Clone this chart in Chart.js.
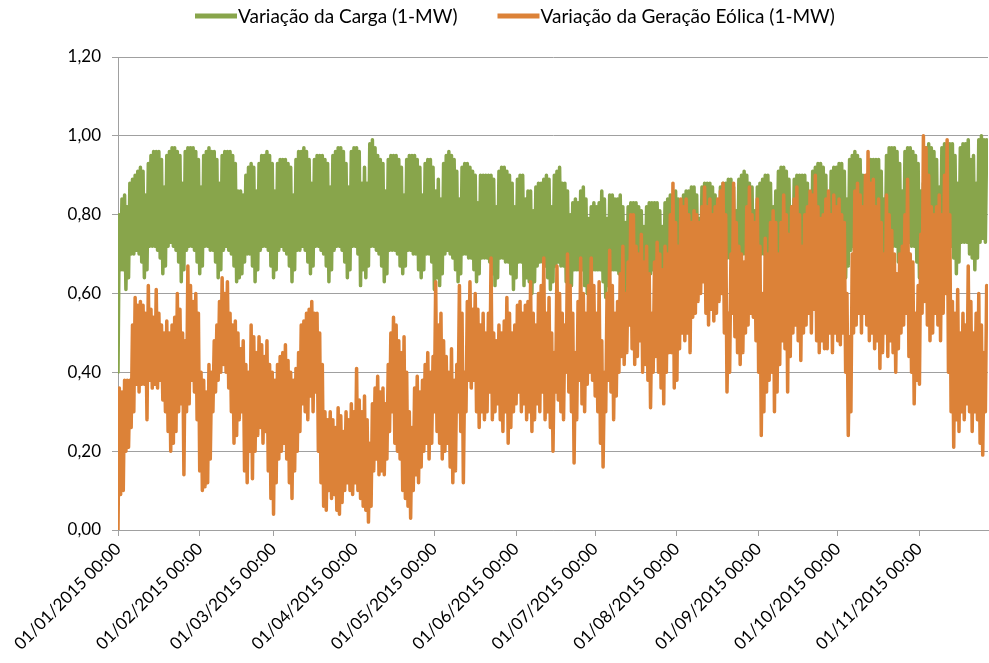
<!DOCTYPE html>
<html>
<head>
<meta charset="utf-8">
<script src="https://cdn.jsdelivr.net/npm/chart.js@4/dist/chart.umd.min.js"></script>
<style>
html,body{margin:0;padding:0;background:#fff;}
#wrap{width:989px;height:663px;}
</style>
</head>
<body>
<div id="wrap"><canvas id="c" width="989" height="663"></canvas></div>
<script>
// x positions are days since 01/01/2015; each day has a minimum and a maximum reading
const tickDays = [0, 31, 59, 90, 120, 151, 181, 212, 243, 273, 304];
const tickLabels = ["01/01/2015 00:00","01/02/2015 00:00","01/03/2015 00:00","01/04/2015 00:00","01/05/2015 00:00","01/06/2015 00:00","01/07/2015 00:00","01/08/2015 00:00","01/09/2015 00:00","01/10/2015 00:00","01/11/2015 00:00"];
const seriesNames = ["Variação da Carga (1-MW)", "Variação da Geração Eólica (1-MW)"];

const cargaMax = [
0.80,0.84,0.85,0.82,0.88,0.89,0.90, 0.91,0.92,0.91,0.85,0.93,0.95,0.96, 0.96,0.96,0.94,0.87,0.95,0.96,0.97,
0.97,0.96,0.95,0.88,0.96,0.97,0.97, 0.97,0.96,0.94,0.87,0.95,0.96,0.97, 0.96,0.96,0.94,0.88,0.95,0.96,0.96,
0.96,0.95,0.93,0.86,0.86,0.85,0.90, 0.92,0.93,0.92,0.86,0.93,0.95,0.95, 0.96,0.95,0.93,0.86,0.93,0.94,0.94,
0.94,0.93,0.92,0.85,0.94,0.96,0.96, 0.97,0.96,0.94,0.88,0.94,0.95,0.95, 0.95,0.94,0.93,0.87,0.95,0.96,0.97,
0.97,0.96,0.93,0.87,0.96,0.97,0.97, 0.96,0.88,0.92,0.88,0.98,0.99,0.97, 0.95,0.94,0.93,0.86,0.94,0.95,0.95,
0.95,0.94,0.92,0.85,0.94,0.95,0.95, 0.95,0.94,0.92,0.85,0.93,0.94,0.94, 0.92,0.86,0.89,0.84,0.93,0.95,0.96,
0.95,0.94,0.91,0.84,0.92,0.93,0.93, 0.92,0.91,0.90,0.83,0.90,0.90,0.90, 0.90,0.90,0.89,0.82,0.91,0.92,0.92,
0.91,0.90,0.88,0.82,0.89,0.90,0.90, 0.84,0.86,0.86,0.81,0.87,0.88,0.88, 0.89,0.90,0.89,0.82,0.90,0.91,0.92,
0.88,0.88,0.86,0.80,0.83,0.84,0.83, 0.86,0.87,0.84,0.79,0.82,0.83,0.82, 0.83,0.86,0.84,0.79,0.85,0.85,0.84,
0.84,0.85,0.82,0.78,0.82,0.83,0.83, 0.83,0.82,0.81,0.77,0.82,0.83,0.83, 0.83,0.83,0.81,0.77,0.83,0.84,0.85,
0.85,0.86,0.84,0.78,0.85,0.86,0.86, 0.87,0.87,0.85,0.79,0.87,0.88,0.88, 0.88,0.87,0.85,0.79,0.87,0.88,0.88,
0.89,0.89,0.87,0.81,0.89,0.90,0.91, 0.90,0.88,0.87,0.81,0.87,0.88,0.89, 0.90,0.90,0.88,0.82,0.86,0.91,0.92,
0.92,0.91,0.89,0.82,0.89,0.90,0.90, 0.90,0.90,0.88,0.82,0.91,0.92,0.93, 0.93,0.92,0.90,0.83,0.91,0.92,0.92,
0.93,0.93,0.91,0.84,0.94,0.95,0.96, 0.95,0.94,0.90,0.83,0.84,0.94,0.94, 0.94,0.94,0.91,0.84,0.95,0.97,0.97,
0.97,0.96,0.93,0.86,0.96,0.97,0.97, 0.96,0.95,0.93,0.86,0.88,0.97,0.98, 0.97,0.96,0.94,0.87,0.97,0.98,0.98,
0.98,0.98,0.95,0.88,0.97,0.98,0.98, 0.99,0.94,0.95,0.88,0.99,1.00,0.99, 0.99
];
const cargaMin = [
0.40,0.66,0.66,0.61,0.64,0.70,0.70, 0.71,0.70,0.68,0.64,0.66,0.72,0.72, 0.72,0.71,0.69,0.65,0.67,0.72,0.73,
0.72,0.71,0.68,0.63,0.66,0.71,0.72, 0.72,0.71,0.68,0.65,0.67,0.72,0.72, 0.71,0.71,0.68,0.64,0.66,0.71,0.72,
0.71,0.70,0.67,0.63,0.64,0.65,0.68, 0.70,0.70,0.67,0.63,0.66,0.71,0.72, 0.72,0.71,0.67,0.64,0.66,0.71,0.72,
0.71,0.70,0.67,0.63,0.66,0.71,0.71, 0.72,0.71,0.68,0.65,0.67,0.72,0.72, 0.71,0.70,0.67,0.63,0.66,0.71,0.72,
0.72,0.71,0.68,0.64,0.66,0.72,0.72, 0.70,0.62,0.66,0.64,0.67,0.72,0.72, 0.71,0.70,0.67,0.63,0.65,0.71,0.71,
0.71,0.70,0.67,0.65,0.67,0.71,0.71, 0.70,0.70,0.66,0.64,0.66,0.70,0.70, 0.68,0.61,0.64,0.62,0.65,0.70,0.71,
0.70,0.69,0.66,0.63,0.65,0.70,0.70, 0.69,0.69,0.66,0.63,0.65,0.69,0.69, 0.69,0.68,0.65,0.62,0.64,0.69,0.69,
0.68,0.68,0.65,0.61,0.64,0.68,0.68, 0.62,0.64,0.63,0.60,0.63,0.67,0.68, 0.68,0.67,0.64,0.61,0.63,0.67,0.68,
0.67,0.67,0.63,0.60,0.62,0.66,0.66, 0.66,0.66,0.62,0.60,0.62,0.66,0.66, 0.66,0.66,0.63,0.59,0.62,0.66,0.66,
0.66,0.65,0.62,0.58,0.61,0.65,0.65, 0.65,0.65,0.62,0.58,0.61,0.65,0.65, 0.66,0.65,0.62,0.59,0.61,0.66,0.66,
0.67,0.66,0.63,0.60,0.63,0.67,0.67, 0.68,0.67,0.64,0.61,0.64,0.68,0.68, 0.68,0.68,0.65,0.62,0.64,0.69,0.69,
0.69,0.69,0.66,0.63,0.65,0.69,0.70, 0.70,0.69,0.66,0.63,0.65,0.70,0.70, 0.70,0.70,0.67,0.63,0.63,0.68,0.70,
0.70,0.70,0.67,0.64,0.66,0.70,0.71, 0.71,0.70,0.67,0.64,0.66,0.71,0.71, 0.71,0.70,0.68,0.64,0.66,0.71,0.71,
0.71,0.71,0.68,0.64,0.67,0.71,0.72, 0.71,0.71,0.67,0.63,0.63,0.70,0.71, 0.72,0.71,0.68,0.64,0.67,0.72,0.72,
0.72,0.72,0.68,0.65,0.67,0.72,0.73, 0.72,0.72,0.68,0.64,0.64,0.71,0.72, 0.73,0.72,0.69,0.65,0.67,0.72,0.73,
0.73,0.72,0.69,0.65,0.68,0.73,0.73, 0.73,0.70,0.69,0.66,0.69,0.73,0.74, 0.73
];
const eolicaMax = [
0.36,0.35,0.38,0.38,0.38,0.52,0.59,0.57,0.58,0.57,
0.55,0.62,0.56,0.54,0.61,0.55,0.52,0.50,0.53,0.50,
0.52,0.54,0.60,0.56,0.50,0.48,0.67,0.62,0.58,0.60,
0.55,0.40,0.38,0.35,0.42,0.40,0.48,0.52,0.58,0.64,
0.60,0.63,0.55,0.52,0.53,0.50,0.46,0.48,0.42,0.40,
0.52,0.49,0.45,0.49,0.47,0.44,0.48,0.42,0.40,0.38,
0.42,0.44,0.45,0.47,0.43,0.40,0.38,0.41,0.45,0.52,
0.53,0.55,0.56,0.58,0.55,0.55,0.50,0.42,0.30,0.28,
0.30,0.28,0.26,0.31,0.29,0.25,0.30,0.28,0.32,0.30,
0.41,0.33,0.30,0.34,0.28,0.22,0.32,0.36,0.39,0.35,
0.36,0.32,0.42,0.50,0.54,0.52,0.48,0.45,0.49,0.40,
0.30,0.26,0.36,0.39,0.35,0.38,0.42,0.45,0.40,0.44,
0.63,0.52,0.55,0.48,0.44,0.40,0.46,0.38,0.42,0.62,
0.55,0.40,0.58,0.63,0.56,0.60,0.56,0.52,0.55,0.50,
0.55,0.69,0.50,0.48,0.52,0.50,0.53,0.59,0.55,0.50,
0.52,0.57,0.58,0.55,0.57,0.58,0.63,0.55,0.52,0.60,
0.62,0.69,0.55,0.59,0.50,0.45,0.67,0.60,0.55,0.52,
0.70,0.62,0.55,0.45,0.58,0.69,0.60,0.55,0.62,0.69,
0.62,0.55,0.63,0.48,0.40,0.60,0.71,0.62,0.55,0.58,
0.65,0.72,0.60,0.68,0.80,0.80,0.72,0.70,0.75,0.68,
0.72,0.65,0.55,0.68,0.73,0.70,0.66,0.72,0.70,0.80,
0.88,0.78,0.72,0.84,0.82,0.84,0.80,0.78,0.81,0.80,
0.78,0.82,0.87,0.82,0.84,0.80,0.82,0.84,0.86,0.88,
0.80,0.55,0.70,0.88,0.78,0.72,0.70,0.68,0.82,0.87,
0.80,0.78,0.84,0.72,0.60,0.74,0.70,0.78,0.81,0.78,
0.70,0.78,0.85,0.80,0.75,0.82,0.84,0.87,0.80,0.72,
0.80,0.82,0.86,0.85,0.90,0.82,0.79,0.80,0.84,0.86,
0.80,0.85,0.82,0.84,0.80,0.78,0.60,0.49,0.70,0.86,
0.88,0.85,0.82,0.90,0.96,0.88,0.89,0.82,0.84,0.78,
0.70,0.85,0.80,0.76,0.70,0.65,0.70,0.72,0.80,0.89,
0.70,0.68,0.55,0.62,0.75,1.00,0.97,0.90,0.82,0.80,
0.82,0.85,0.80,0.90,0.99,0.80,0.58,0.55,0.61,0.50,
0.55,0.52,0.67,0.58,0.50,0.55,0.60,0.52,0.45,0.62
];
const eolicaMin = [
0.00,0.09,0.10,0.20,0.21,0.26,0.30,0.37,0.35,0.37,
0.37,0.28,0.38,0.36,0.37,0.36,0.38,0.33,0.30,0.25,
0.20,0.22,0.25,0.30,0.32,0.14,0.30,0.32,0.38,0.35,
0.28,0.15,0.10,0.11,0.12,0.18,0.30,0.35,0.38,0.40,
0.42,0.40,0.36,0.30,0.22,0.24,0.28,0.30,0.15,0.12,
0.20,0.13,0.20,0.24,0.26,0.22,0.25,0.15,0.08,0.04,
0.12,0.18,0.20,0.22,0.18,0.12,0.08,0.15,0.20,0.25,
0.32,0.30,0.28,0.34,0.30,0.35,0.20,0.12,0.06,0.05,
0.10,0.08,0.09,0.05,0.04,0.07,0.10,0.12,0.10,0.09,
0.12,0.10,0.08,0.06,0.05,0.02,0.06,0.15,0.18,0.14,
0.15,0.14,0.18,0.25,0.30,0.22,0.20,0.18,0.10,0.08,
0.06,0.03,0.10,0.14,0.12,0.16,0.20,0.22,0.18,0.22,
0.30,0.25,0.22,0.18,0.20,0.22,0.16,0.12,0.15,0.30,
0.25,0.12,0.30,0.38,0.36,0.38,0.30,0.26,0.30,0.28,
0.30,0.35,0.28,0.30,0.32,0.28,0.25,0.30,0.22,0.26,
0.30,0.32,0.35,0.30,0.32,0.28,0.30,0.25,0.28,0.32,
0.30,0.35,0.28,0.30,0.26,0.20,0.35,0.33,0.30,0.28,
0.40,0.35,0.30,0.17,0.28,0.38,0.32,0.30,0.37,0.40,
0.38,0.34,0.30,0.22,0.16,0.30,0.38,0.35,0.28,0.34,
0.40,0.44,0.42,0.45,0.52,0.46,0.42,0.44,0.48,0.40,
0.42,0.38,0.31,0.40,0.44,0.40,0.36,0.32,0.40,0.45,
0.45,0.36,0.38,0.46,0.50,0.48,0.50,0.45,0.54,0.55,
0.58,0.60,0.63,0.55,0.52,0.56,0.53,0.55,0.58,0.60,
0.50,0.35,0.40,0.55,0.49,0.45,0.42,0.45,0.50,0.52,
0.55,0.54,0.48,0.40,0.24,0.30,0.35,0.38,0.40,0.30,
0.35,0.42,0.48,0.46,0.35,0.44,0.50,0.52,0.48,0.43,
0.50,0.52,0.55,0.50,0.56,0.48,0.45,0.48,0.46,0.46,
0.50,0.45,0.50,0.48,0.47,0.50,0.40,0.24,0.30,0.50,
0.52,0.55,0.50,0.55,0.52,0.48,0.50,0.46,0.48,0.41,
0.45,0.50,0.44,0.48,0.45,0.40,0.46,0.50,0.52,0.55,
0.44,0.40,0.32,0.38,0.37,0.55,0.58,0.52,0.48,0.50,
0.55,0.52,0.48,0.55,0.60,0.40,0.30,0.21,0.28,0.25,
0.30,0.28,0.32,0.30,0.25,0.30,0.28,0.22,0.19,0.30
];

function dailyPoints(mins, maxs) {
  const pts = [];
  for (let i = 0; i < mins.length; i++) {
    pts.push({x: i, y: mins[i]});
    pts.push({x: i + 0.5, y: maxs[i]});
  }
  return pts;
}

const legendPlugin = {
  id: 'topLegend',
  afterDraw(chart) {
    const ctx = chart.ctx;
    ctx.save();
    ctx.font = '19px Lato';
    ctx.textBaseline = 'middle';
    ctx.textAlign = 'left';
    let x = 195;
    const y = 16;
    chart.data.datasets.forEach(ds => {
      ctx.strokeStyle = ds.borderColor;
      ctx.lineWidth = 5;
      ctx.lineCap = 'butt';
      ctx.beginPath();
      ctx.moveTo(x, y);
      ctx.lineTo(x + 42, y);
      ctx.stroke();
      ctx.fillStyle = '#000';
      ctx.fillText(ds.label, x + 43, y + 1);
      x += 43 + ctx.measureText(ds.label).width + 40;
    });
    ctx.restore();
  }
};

new Chart(document.getElementById('c'), {
  type: 'line',
  data: {
    datasets: [
      {label: seriesNames[0], data: dailyPoints(cargaMin, cargaMax), borderColor: '#88a54b', backgroundColor: '#88a54b', borderWidth: 3.5, pointRadius: 0, tension: 0, borderJoinStyle: 'round', borderCapStyle: 'round', order: 1},
      {label: seriesNames[1], data: dailyPoints(eolicaMin, eolicaMax), borderColor: '#dc8238', backgroundColor: '#dc8238', borderWidth: 3.5, pointRadius: 0, tension: 0, borderJoinStyle: 'round', borderCapStyle: 'round', order: 0}
    ]
  },
  options: {
    responsive: false,
    animation: false,
    events: [],
    layout: {padding: {top: 57, left: 0, right: 1, bottom: 0}},
    plugins: {legend: {display: false}, tooltip: {enabled: false}},
    scales: {
      x: {
        type: 'linear',
        min: 0,
        max: 330,
        afterBuildTicks: (scale) => { scale.ticks = tickDays.map(v => ({value: v})); },
        afterFit: (scale) => { scale.height = 133; },
        grid: {display: true, drawOnChartArea: false, drawTicks: true, tickLength: 6, color: '#a0a0a0', lineWidth: 1},
        border: {display: true, color: '#a0a0a0', width: 1},
        ticks: {
          autoSkip: false,
          minRotation: 45,
          maxRotation: 45,
          padding: 3,
          color: '#000',
          font: {family: 'Lato', size: 17},
          callback: (value, index) => tickLabels[index]
        }
      },
      y: {
        min: 0,
        max: 1.2,
        afterFit: (scale) => { scale.width = 118; },
        grid: {color: '#a0a0a0', lineWidth: 1, tickLength: 6},
        border: {display: true, color: '#a0a0a0', width: 1},
        ticks: {
          stepSize: 0.2,
          padding: 11,
          color: '#000',
          font: {family: 'Lato', size: 17},
          callback: (v) => v.toFixed(2).replace('.', ',')
        }
      }
    }
  },
  plugins: [legendPlugin]
});
</script>
</body>
</html>
